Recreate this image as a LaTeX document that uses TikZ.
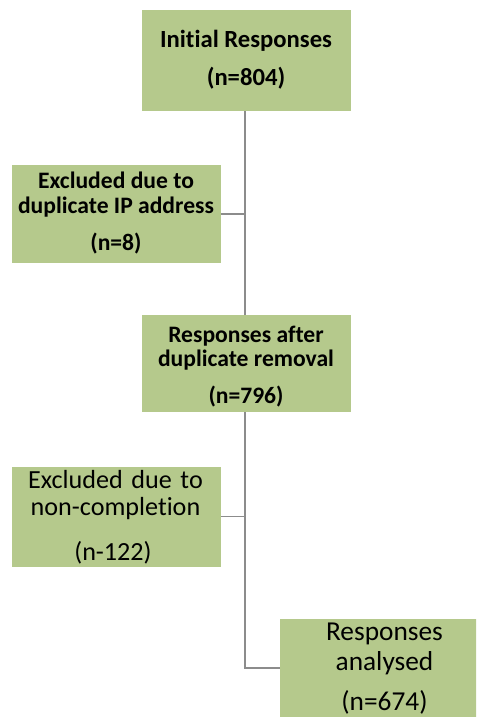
\documentclass[tikz,border=0pt]{standalone}
\usepackage{fontspec}
\setmainfont{Carlito}[Ligatures=CommonOff]
\definecolor{boxgreen}{RGB}{181,201,140}
\definecolor{linkgray}{RGB}{140,140,140}
\begin{document}
\begin{tikzpicture}[x=0.75pt,y=-0.75pt,
  box/.style={fill=boxgreen,draw=none,inner sep=0pt,minimum width=156.75pt,minimum height=75pt},
  txt/.style={inner sep=0pt,anchor=base,text=black},
  hd/.style={txt,font=\bfseries\fontsize{18.5}{20}\selectfont},
  md/.style={txt,font=\bfseries\fontsize{17.7}{19}\selectfont},
  lg/.style={txt,font=\fontsize{19.6}{21}\selectfont},
  xl/.style={txt,font=\fontsize{20.5}{22}\selectfont},
  link/.style={draw=linkgray,line width=1.1pt}]
\clip (0,0) rectangle (476,717);
\fill[white] (0,0) rectangle (476,717);

% boxes
\node[box,minimum height=75.75pt] (b1) at (246,60.5) {};
\node[box,minimum height=73.5pt] (b2) at (116.5,214) {};
\node[box,minimum height=72.75pt] (b3) at (246,363.5) {};
\node[box] (b4) at (116.5,516.5) {};
\node[box,minimum width=156pt,minimum height=82pt] (b5) at (384,674) {};

% texts
\node[hd] (t1a) at (246,48) {Initial Responses};
\node[hd] (t1b) at (246,85) {(n=804)};
\node[md] (t2a) at (116,188) {Excluded due to};
\node[md] (t2b) at (116,213) {duplicate IP address};
\node[md] (t2c) at (116,250) {(n=8)};
\node[md] (t3a) at (246,342) {Responses after};
\node[md] (t3b) at (246,366) {duplicate removal};
\node[md] (t3c) at (246,403) {(n=796)};
\node[lg] (t4a) at (115.5,488) {\makebox[131pt][s]{Excluded due to}};
\node[lg] (t4b) at (115.5,515) {non-completion};
\node[lg] (t4c) at (113,560) {(n-122)};
\node[xl] (t5a) at (384.5,640) {Responses};
\node[xl] (t5b) at (384.5,670) {analysed};
\node[xl] (t5c) at (384.5,710) {(n=674)};

% connectors
\coordinate (elbow) at (245,668);
\draw[link] (b1.south -| elbow) -- (b3.north -| elbow);
\draw[link] (b2.east) -- (b2.east -| elbow);
\draw[link] (b3.south -| elbow) -- (elbow) -- (elbow -| b5.west);
\draw[link] (b4.east) -- (b4.east -| elbow);
\end{tikzpicture}
\end{document}
